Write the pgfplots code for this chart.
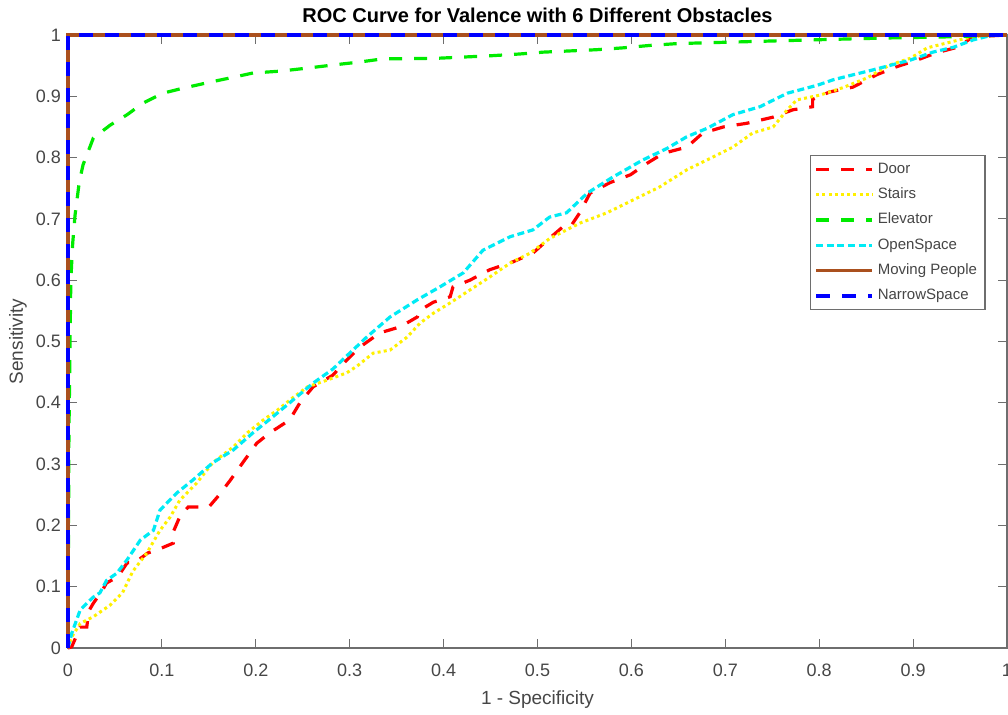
\documentclass[border=0pt]{standalone}
\usepackage{pgfplots}
\pgfplotsset{compat=1.18}
\usepackage{fontspec}
\setmainfont{Liberation Sans}
\definecolor{mbrown}{RGB}{170,80,30}
\definecolor{mred}{RGB}{255,0,0}
\definecolor{myellow}{RGB}{255,240,0}
\definecolor{mgreen}{RGB}{0,235,0}
\definecolor{mcyan}{RGB}{0,235,245}
\definecolor{mblue}{RGB}{0,0,255}
\definecolor{axgray}{RGB}{110,110,110}
\definecolor{txgray}{RGB}{70,70,70}
\begin{document}
\begin{tikzpicture}
\begin{axis}[name=ax,
  scale only axis, width=469.5pt, height=306.5pt,
  xmin=0, xmax=1, ymin=0, ymax=1,
  xtick={0,0.1,...,1.0}, ytick={0,0.1,...,1.0},
  xticklabels={0,0.1,0.2,0.3,0.4,0.5,0.6,0.7,0.8,0.9,1},
  yticklabels={0,0.1,0.2,0.3,0.4,0.5,0.6,0.7,0.8,0.9,1},
  /pgf/number format/assume math mode=true,
  tick align=inside, major tick length=4.5pt,
  every tick/.style={axgray, line width=0.5pt},
  axis line style={axgray, line width=0.6pt},
  tick label style={font=\fontsize{9}{10}\selectfont, text=txgray},
  xticklabel style={yshift=-4.5pt},
  title={\textbf{ROC Curve for Valence with 6 Different Obstacles}},
  title style={at={(axis description cs:0.5,1)}, anchor=center, yshift=4pt, font=\fontsize{10}{11}\selectfont},
  xlabel={1 - Specificity}, ylabel={Sensitivity},
  xlabel style={at={(axis description cs:0.5,0)}, anchor=center, yshift=-26pt, font=\fontsize{9.5}{10}\selectfont, text=txgray},
  ylabel style={at={(axis description cs:0,0.5)}, anchor=center, yshift=25pt, font=\fontsize{9.5}{10}\selectfont, text=txgray},
  clip=false,
  legend style={at={(axis description cs:0.790,0.804)}, anchor=north west,
    draw=axgray, line width=0.6pt, font=\fontsize{7.5}{9}\selectfont, text=txgray,
    inner xsep=2pt, inner ysep=1.5pt, row sep=1.8pt, legend cell align=left},
  legend image code/.code={\draw[#1] (0pt,0pt) -- (28pt,0pt);},
]
\addplot[mred, line width=1.6pt, dash pattern=on 6.5pt off 6pt] coordinates {
(0,0) (0.004,0.002) (0.013,0.034) (0.020,0.034) (0.022,0.060) (0.027,0.073) (0.037,0.095) (0.041,0.106) (0.053,0.116) (0.063,0.139) (0.071,0.139) (0.085,0.155) (0.095,0.160) (0.112,0.171) (0.112,0.189) (0.119,0.214) (0.128,0.230) (0.150,0.230) (0.159,0.246) (0.173,0.274) (0.186,0.302) (0.201,0.334) (0.215,0.351) (0.236,0.372) (0.247,0.400) (0.261,0.426) (0.282,0.445) (0.297,0.470) (0.311,0.491) (0.332,0.514) (0.354,0.524) (0.372,0.540) (0.375,0.551) (0.389,0.564) (0.407,0.573) (0.410,0.589) (0.428,0.600) (0.449,0.617) (0.474,0.630) (0.495,0.644) (0.511,0.666) (0.527,0.687) (0.535,0.687) (0.545,0.710) (0.556,0.742) (0.577,0.759) (0.599,0.772) (0.617,0.791) (0.634,0.807) (0.659,0.817) (0.676,0.840) (0.698,0.850) (0.723,0.856) (0.751,0.866) (0.772,0.878) (0.793,0.883) (0.793,0.895) (0.811,0.907) (0.836,0.915) (0.861,0.935) (0.882,0.948) (0.904,0.959) (0.925,0.971) (0.947,0.980) (0.964,0.997) (1,1)};
\addlegendentry{Door}
\addplot[myellow, line width=1.5pt, dash pattern=on 1.5pt off 1.6pt] coordinates {
(0,0) (0.004,0.018) (0.013,0.040) (0.027,0.051) (0.045,0.070) (0.058,0.090) (0.069,0.125) (0.084,0.155) (0.098,0.192) (0.109,0.214) (0.119,0.241) (0.137,0.269) (0.154,0.302) (0.176,0.328) (0.191,0.351) (0.208,0.372) (0.223,0.388) (0.240,0.409) (0.255,0.426) (0.276,0.437) (0.297,0.449) (0.308,0.460) (0.325,0.481) (0.343,0.486) (0.361,0.507) (0.375,0.530) (0.389,0.546) (0.407,0.563) (0.428,0.584) (0.449,0.605) (0.471,0.628) (0.492,0.644) (0.513,0.668) (0.545,0.693) (0.574,0.710) (0.602,0.731) (0.630,0.752) (0.659,0.780) (0.687,0.801) (0.708,0.817) (0.729,0.840) (0.751,0.850) (0.766,0.878) (0.776,0.894) (0.801,0.902) (0.825,0.914) (0.851,0.930) (0.875,0.951) (0.897,0.962) (0.915,0.979) (0.936,0.987) (0.957,0.995) (0.979,1.0) (1,1)};
\addlegendentry{Stairs}
\addplot[mgreen, line width=1.6pt, dash pattern=on 6.5pt off 6pt] coordinates {
(0,0) (0.001,0.35) (0.003,0.60) (0.005,0.66) (0.0075,0.706) (0.012,0.76) (0.016,0.788) (0.027,0.832) (0.045,0.853) (0.063,0.870) (0.080,0.889) (0.101,0.905) (0.122,0.913) (0.151,0.923) (0.176,0.931) (0.197,0.938) (0.226,0.941) (0.255,0.946) (0.282,0.951) (0.311,0.956) (0.335,0.961) (0.393,0.962) (0.449,0.966) (0.481,0.969) (0.506,0.972) (0.563,0.976) (0.591,0.979) (0.620,0.983) (0.649,0.986) (0.793,0.992) (0.868,0.995) (0.939,0.997) (1,1)};
\addlegendentry{Elevator}
\addplot[mcyan, line width=1.6pt, dash pattern=on 3.5pt off 1.8pt] coordinates {
(0,0) (0.004,0.024) (0.013,0.062) (0.020,0.073) (0.027,0.083) (0.034,0.090) (0.041,0.110) (0.052,0.122) (0.063,0.144) (0.077,0.176) (0.091,0.192) (0.098,0.225) (0.116,0.253) (0.133,0.274) (0.154,0.302) (0.176,0.323) (0.197,0.351) (0.218,0.377) (0.240,0.405) (0.261,0.432) (0.282,0.455) (0.300,0.481) (0.318,0.507) (0.343,0.540) (0.372,0.568) (0.396,0.589) (0.421,0.612) (0.442,0.649) (0.471,0.671) (0.495,0.682) (0.513,0.703) (0.531,0.710) (0.553,0.742) (0.580,0.768) (0.612,0.796) (0.638,0.815) (0.659,0.834) (0.681,0.848) (0.708,0.870) (0.737,0.883) (0.766,0.905) (0.798,0.918) (0.815,0.927) (0.857,0.943) (0.897,0.959) (0.921,0.972) (0.943,0.980) (0.964,0.992) (0.985,1.0) (1,1)};
\addlegendentry{OpenSpace}
\addplot[mbrown, line width=1.7pt] coordinates {(0,0) (0,1) (1,1)};
\addlegendentry{Moving People}
\addplot[mblue, line width=1.7pt, dash pattern=on 7pt off 6pt] coordinates {(0,0) (0,1) (1,1)};
\addlegendentry{NarrowSpace}
\end{axis}
\pgfresetboundingbox
\path ([xshift=-34pt,yshift=-33.5pt]ax.south west) rectangle ([xshift=0.5pt,yshift=17.5pt]ax.north east);
\end{tikzpicture}
\end{document}
